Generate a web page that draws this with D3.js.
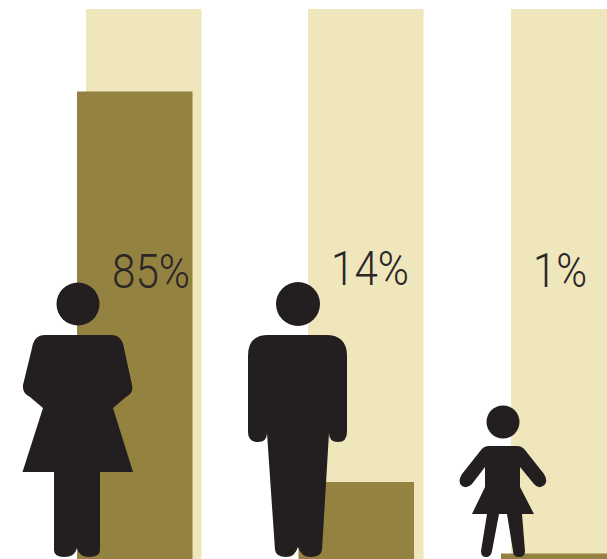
<!DOCTYPE html>
<html><head><meta charset="utf-8">
<script src="https://cdn.jsdelivr.net/npm/d3@7"></script>
<style>html,body{margin:0;padding:0;background:#fff;overflow:hidden}svg{display:block}</style>
</head><body><svg id="c" width="607" height="559"></svg>
<script>
const categories = ["Women", "Men", "Children"];
const values = [85, 14, 1];
const labels = ["85%", "14%", "1%"];

const svg = d3.select("#c");
const y = d3.scaleLinear().domain([0, 100]).range([559, 9]);
const xBack = d3.scaleOrdinal().domain(categories).range([86, 308, 511]);
const xFill = d3.scaleOrdinal().domain(categories).range([77, 298.5, 501]);
const xLabel = d3.scaleOrdinal().domain(categories).range([112, 331, 533]);
const yLabel = d3.scaleOrdinal().domain(categories).range([288, 285, 287]);
const wLabel = d3.scaleOrdinal().domain(categories).range([78, 78, 54]);
const barW = 115.5;

svg.selectAll("rect.back").data(categories).join("rect").attr("class", "back")
  .attr("x", d => xBack(d)).attr("y", y(100)).attr("width", barW).attr("height", y(0) - y(100))
  .attr("fill", "#EFE6BC");
svg.selectAll("rect.fill").data(categories).join("rect").attr("class", "fill")
  .attr("x", d => xFill(d)).attr("y", (d, i) => y(values[i])).attr("width", barW)
  .attr("height", (d, i) => y(0) - y(values[i])).attr("fill", "#948240");

svg.selectAll("text.lab").data(categories).join("text").attr("class", "lab")
  .attr("x", d => xLabel(d)).attr("y", d => yLabel(d))
  .attr("textLength", d => wLabel(d)).attr("lengthAdjust", "spacingAndGlyphs")
  .attr("font-family", "Roboto").attr("font-size", 48).attr("font-weight", 300)
  .attr("fill", "#2b2728").text((d, i) => labels[i]);

const woman = "M-33,31 L33,31 Q44,31 46,44 L54,81 Q56,89 48,93 L35,104 L55,168 L22,168 L22,246 Q22,253 11,253 Q1,253 -1,244 Q-3,253 -14,253 Q-24,253 -24,246 L-24,168 L-55.5,168 L-35,104 L-48,93 Q-56,89 -55,81 L-46,44 Q-44,31 -33,31 Z";
const man = "M-30,31 L28,31 Q49,31 49,52 L49,128 Q49,138 40,138 Q31,138 31,129 L24,246 Q23,253 13,253 Q3,253 0,243 Q-3,253 -12,253 Q-22,253 -23,246 L-31,129 Q-31,138 -40,138 Q-50,138 -50,128 L-50,52 Q-50,31 -30,31 Z";
const girl = "M-14,24 L14,24 Q19,24 22,28 L41,52 Q46,60 40,64 Q35,67 31,62 L17,45 L17,65 L31,92 L19,92 L22,129 Q22,135 16,135 Q10,135 10,129 L4,92 L-4,92 L-11,129 Q-12,135 -17,135 Q-22,135 -22,129 L-16,92 L-31,92 L-18,65 L-18,45 L-31,62 Q-36,67 -41,64 Q-46,60 -41,52 L-22,28 Q-19,24 -14,24 Z";
const figurePaths = [woman, man, girl];
const figureHeadR = [21.5, 22, 16.5];
const figureX = d3.scaleOrdinal().domain(categories).range([78, 298, 503]);
const figureY = d3.scaleOrdinal().domain(categories).range([304, 304, 422]);

const fig = svg.selectAll("g.fig").data(categories).join("g").attr("class", "fig")
  .attr("transform", d => `translate(${figureX(d)},${figureY(d)})`).attr("fill", "#231F20");
fig.append("circle").attr("r", (d, i) => figureHeadR[i]);
fig.append("path").attr("d", (d, i) => figurePaths[i]);
</script></body></html>
